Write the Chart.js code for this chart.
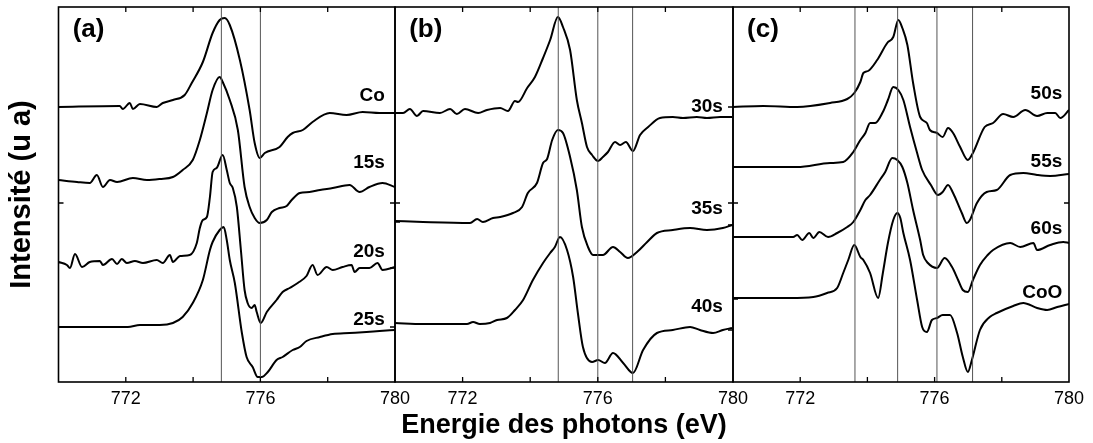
<!DOCTYPE html>
<html>
<head>
<meta charset="utf-8">
<script src="https://cdn.jsdelivr.net/npm/chart.js@4.4.1/dist/chart.umd.min.js"></script>
<style>
    html, body { margin: 0; padding: 0; background: #fff; }
    #wrap { position: relative; width: 1093px; height: 443px; }
    #wrap canvas { position: absolute; left: 0; top: 0; }
</style>
</head>
<body>
<div id="wrap">
    <canvas id="panelA" width="1093" height="443"></canvas>
    <canvas id="panelB" width="1093" height="443"></canvas>
    <canvas id="panelC" width="1093" height="443"></canvas>
</div>
<script>
// Energy axis (eV)
const energyLabels = [772, 776, 780];
const energyMinor = [772, 774, 776, 778];

// Spectra: [energy eV, intensity u.a.]
const co = [[770.00,275],[771.82,276],[771.91,273],[772.12,279],[772.21,273],[772.42,278],[772.92,275],[773.10,279],[773.40,282],[773.75,287],[773.96,299],[774.29,320],[774.58,349],[774.79,362],[774.94,364],[775.09,357],[775.39,322],[775.68,272],[775.83,239],[775.98,224],[776.13,229],[776.57,235],[776.81,245],[776.96,249],[777.26,252],[777.55,260],[778.06,269],[778.56,267],[779.04,270],[779.54,269],[780.00,269]];
const s15 = [[770.00,202],[770.55,200],[770.93,199],[771.14,207],[771.32,195],[771.53,202],[771.74,200],[772.21,204],[772.63,202],[773.01,203],[773.40,205],[773.69,212],[773.99,222],[774.20,242],[774.41,269],[774.58,292],[774.79,305],[774.88,300],[775.09,282],[775.33,252],[775.53,195],[775.68,175],[775.83,164],[775.98,159],[776.19,162],[776.34,170],[776.57,174],[776.78,176],[776.93,182],[777.17,189],[777.46,190],[777.77,192],[778.15,194],[778.65,197],[778.95,190],[779.24,195],[779.63,199],[780.00,195]];
const s20 = [[770.00,120],[770.25,117],[770.34,114],[770.49,128],[770.70,115],[770.93,120],[771.23,121],[771.32,117],[771.59,123],[771.74,118],[771.88,123],[772.03,119],[772.27,121],[772.51,119],[772.92,122],[773.10,119],[773.31,127],[773.40,120],[773.61,126],[773.90,127],[774.11,139],[774.20,154],[774.29,162],[774.41,165],[774.50,185],[774.58,210],[774.70,214],[774.88,227],[775.00,212],[775.09,199],[775.18,194],[775.30,175],[775.42,132],[775.53,92],[775.62,79],[775.74,74],[775.83,77],[775.89,70],[776.01,59],[776.19,70],[776.48,82],[776.66,90],[776.87,94],[777.11,99],[777.37,106],[777.55,117],[777.70,107],[777.97,115],[778.15,112],[778.44,115],[778.71,117],[778.80,110],[778.95,114],[779.24,114],[779.48,119],[779.63,112],[780.00,115]];
const s25 = [[770.00,55],[772.06,55],[772.42,57],[773.01,57],[773.40,59],[773.69,65],[773.99,79],[774.29,102],[774.50,132],[774.58,140],[774.79,152],[774.91,155],[775.00,142],[775.09,122],[775.24,99],[775.45,49],[775.59,25],[775.77,15],[775.92,5],[776.04,5],[776.22,10],[776.48,22],[776.66,25],[776.96,32],[777.17,35],[777.37,41],[777.77,45],[778.15,48],[778.65,49],[779.15,50],[779.54,51],[780.00,52]];

const s30 = [[770.00,269],[770.24,269],[770.44,273],[770.65,266],[770.83,271],[771.33,269],[771.63,273],[771.83,268],[772.07,273],[772.46,269],[772.72,272],[773.11,274],[773.34,271],[773.55,281],[773.64,280],[773.91,294],[774.14,305],[774.38,324],[774.59,342],[774.82,365],[774.97,355],[775.18,332],[775.38,282],[775.53,259],[775.68,235],[775.83,227],[776.01,221],[776.15,225],[776.30,230],[776.51,240],[776.66,237],[776.83,240],[777.04,231],[777.25,247],[777.49,255],[777.84,264],[778.22,265],[778.52,264],[778.93,265],[779.23,264],[779.62,265],[779.97,265]];
const s35 = [[770.00,161],[770.83,160],[772.22,159],[772.43,163],[772.60,160],[772.90,164],[773.11,165],[773.49,169],[773.76,175],[773.93,189],[774.20,199],[774.38,219],[774.50,223],[774.65,242],[774.82,252],[774.97,249],[775.18,225],[775.38,192],[775.53,155],[775.71,135],[775.86,127],[776.15,127],[776.45,135],[776.66,130],[776.89,124],[777.16,130],[777.46,140],[777.75,149],[778.22,152],[778.73,154],[779.23,152],[779.70,154],[779.97,157]];
const s40 = [[770.00,59],[770.83,58],[772.13,58],[772.31,60],[772.51,58],[772.81,59],[773.02,62],[773.31,64],[773.55,72],[773.79,82],[774.08,102],[774.38,119],[774.59,129],[774.73,135],[774.88,145],[775.09,132],[775.27,105],[775.41,69],[775.56,35],[775.83,20],[776.01,22],[776.21,19],[776.45,29],[776.75,19],[777.04,9],[777.34,32],[777.75,49],[778.22,52],[778.73,55],[779.02,52],[779.41,49],[779.70,52],[779.97,54]];

const s50 = [[770.00,275],[770.90,276],[771.91,275],[772.89,279],[773.40,283],[773.61,289],[773.79,300],[773.88,309],[774.02,311],[774.29,322],[774.59,339],[774.77,345],[774.92,362],[775.04,354],[775.19,337],[775.36,299],[775.57,265],[775.77,259],[775.86,252],[776.07,249],[776.24,245],[776.40,254],[776.55,249],[776.76,235],[776.99,222],[777.14,229],[777.49,255],[777.74,259],[778.04,268],[778.34,265],[778.70,272],[779.05,266],[779.35,269],[779.59,269],[779.74,264],[780.00,272]];
const s55 = [[770.00,215],[770.90,215],[771.91,215],[772.89,219],[773.28,220],[773.58,230],[773.79,242],[773.94,249],[774.08,259],[774.23,259],[774.46,270],[774.61,282],[774.77,295],[774.92,292],[775.07,282],[775.27,255],[775.48,229],[775.63,212],[775.89,197],[776.10,187],[776.24,190],[776.40,197],[776.55,189],[776.81,169],[776.96,159],[777.05,162],[777.26,179],[777.55,190],[777.85,192],[778.25,207],[778.64,209],[779.05,207],[779.44,206],[780.00,208]];
const s60 = [[770.00,145],[771.79,145],[771.91,147],[772.06,142],[772.27,149],[772.39,144],[772.57,150],[772.83,145],[773.10,149],[773.40,155],[773.58,160],[773.79,172],[773.94,182],[774.08,187],[774.37,202],[774.53,210],[774.74,224],[774.89,222],[775.04,215],[775.19,199],[775.36,172],[775.57,142],[775.66,127],[775.80,119],[776.07,114],[776.30,124],[776.52,115],[776.70,102],[776.84,92],[776.99,90],[777.14,102],[777.35,117],[777.58,127],[777.74,132],[778.25,139],[778.55,135],[778.94,139],[779.05,132],[779.44,137],[779.83,140],[780.00,139]];
const coo = [[770.00,84],[771.70,84],[772.39,85],[772.80,89],[773.10,94],[773.28,109],[773.43,122],[773.61,137],[773.79,125],[773.88,122],[774.08,109],[774.32,84],[774.46,109],[774.61,139],[774.77,162],[774.89,169],[774.98,164],[775.07,149],[775.27,122],[775.48,82],[775.63,55],[775.77,50],[775.92,62],[776.07,64],[776.24,67],[776.46,67],[776.67,49],[776.84,25],[776.99,10],[777.11,22],[777.35,52],[777.64,65],[777.85,69],[778.34,76],[778.64,79],[779.05,74],[779.35,72],[779.65,75],[780.00,78]];

// Reference energies (vertical lines) per panel
const linesA = [774.84, 776.0];
const linesB = [774.83, 776.0, 777.03];
const linesC = [773.63, 774.9, 776.07, 777.13];

// Curve names and where their labels sit (intensity)
const namesA = ["Co", "15s", "20s", "25s"];
const labelYA = [286, 219, 130, 62];
const namesB = ["30s", "35s", "40s"];
const labelYB = [275, 173, 75];
const namesC = ["50s", "55s", "60s", "CoO"];
const labelYC = [288, 220, 153, 89];

// Inner y ticks (intensity)
const yTicksA = { left: [179], right: [179, 114, 55] };
const yTicksB = { left: [269, 179, 160], right: [275, 179, 157, 52] };
const yTicksC = { left: [215, 179, 145, 83], right: [179] };

const FONT = '"Liberation Sans", Arial, Helvetica, sans-serif';

// Draws box, inner ticks, panel letter and curve names
const decor = {
    id: 'decor',
    afterDatasetsDraw(chart, args, o) {
        const { ctx, chartArea: a, scales: { x, y } } = chart;
        ctx.save();
        ctx.strokeStyle = '#000';
        ctx.lineWidth = 1.3;
        ctx.beginPath();
        energyMinor.forEach(v => {
            let px = x.getPixelForValue(v);
            ctx.moveTo(px, a.top); ctx.lineTo(px, a.top + 5);
            ctx.moveTo(px, a.bottom); ctx.lineTo(px, a.bottom - 5);
        });
        o.ticks.left.forEach(v => {
            let py = y.getPixelForValue(v);
            ctx.moveTo(a.left, py); ctx.lineTo(a.left + 5, py);
        });
        o.ticks.right.forEach(v => {
            let py = y.getPixelForValue(v);
            ctx.moveTo(a.right, py); ctx.lineTo(a.right - 5, py);
        });
        ctx.stroke();
        ctx.lineWidth = 1.6;
        ctx.strokeRect(a.left, a.top, a.right - a.left, a.bottom - a.top);

        ctx.fillStyle = '#000';
        ctx.textBaseline = 'middle';
        ctx.textAlign = 'left';
        ctx.font = 'bold 26px ' + FONT;
        ctx.fillText(o.letter, x.getPixelForValue(770.42), y.getPixelForValue(352));

        ctx.font = 'bold 19px ' + FONT;
        ctx.textAlign = 'right';
        o.names.forEach((n, i) => {
            ctx.fillText(n, x.getPixelForValue(o.labelX), y.getPixelForValue(o.labelY[i]));
        });
        ctx.restore();
    }
};

function curve(arr) {
    return {
        data: arr.map(p => ({ x: p[0], y: p[1] })),
        borderColor: '#000',
        borderWidth: 2,
        pointRadius: 0,
        fill: false,
        cubicInterpolationMode: 'monotone'
    };
}

function vline(e) {
    return {
        data: [{ x: e, y: 0 }, { x: e, y: 375 }],
        borderColor: '#555',
        borderWidth: 1,
        pointRadius: 0,
        fill: false
    };
}

function makePanel(id, p) {
    let ctx = document.getElementById(id).getContext('2d');
    let datasets = p.lines.map(vline).concat(p.curves.map(curve));
    return new Chart(ctx, {
        type: 'line',
        data: { datasets: datasets },
        options: {
            responsive: false,
            animation: false,
            events: [],
            layout: { padding: { left: p.padLeft, right: p.padRight, top: 7, bottom: 0 } },
            plugins: {
                legend: { display: false },
                tooltip: { enabled: false },
                decor: { letter: p.letter, names: p.names, labelY: p.labelY, labelX: p.labelX, ticks: p.ticks }
            },
            scales: {
                x: {
                    type: 'linear',
                    min: 770,
                    max: 780,
                    afterBuildTicks: s => { s.ticks = energyLabels.map(v => ({ value: v })); },
                    afterFit: s => { s.height = 61; },
                    ticks: {
                        color: '#000',
                        padding: 6,
                        maxRotation: 0,
                        autoSkip: false,
                        font: { family: FONT, size: 18 }
                    },
                    grid: { display: false, drawTicks: false },
                    border: { display: false },
                    title: {
                        display: p.xTitle,
                        text: 'Energie des photons (eV)',
                        color: '#000',
                        font: { family: FONT, size: 27, weight: 'bold' },
                        padding: { top: 0, bottom: 1 }
                    }
                },
                y: {
                    min: 0,
                    max: 375,
                    display: p.yTitle,
                    afterFit: s => { s.width = p.yTitle ? 53.5 : 0; },
                    ticks: { display: false },
                    grid: { display: false, drawTicks: false },
                    border: { display: false },
                    title: {
                        display: p.yTitle,
                        text: 'Intensité (u a)',
                        color: '#000',
                        font: { family: FONT, size: 29, weight: 'bold' },
                        padding: { top: 0, bottom: 0 }
                    }
                }
            }
        },
        plugins: [decor]
    });
}

makePanel('panelA', {
    curves: [co, s15, s20, s25], lines: linesA, names: namesA, labelY: labelYA, labelX: 779.7,
    ticks: yTicksA, letter: '(a)', padLeft: 5, padRight: 698, xTitle: false, yTitle: true
});
makePanel('panelB', {
    curves: [s30, s35, s40], lines: linesB, names: namesB, labelY: labelYB, labelX: 779.7,
    ticks: yTicksB, letter: '(b)', padLeft: 395, padRight: 360, xTitle: true, yTitle: false
});
makePanel('panelC', {
    curves: [s50, s55, s60, coo], lines: linesC, names: namesC, labelY: labelYC, labelX: 779.8,
    ticks: yTicksC, letter: '(c)', padLeft: 733, padRight: 24, xTitle: false, yTitle: false
});
</script>
</body>
</html>
